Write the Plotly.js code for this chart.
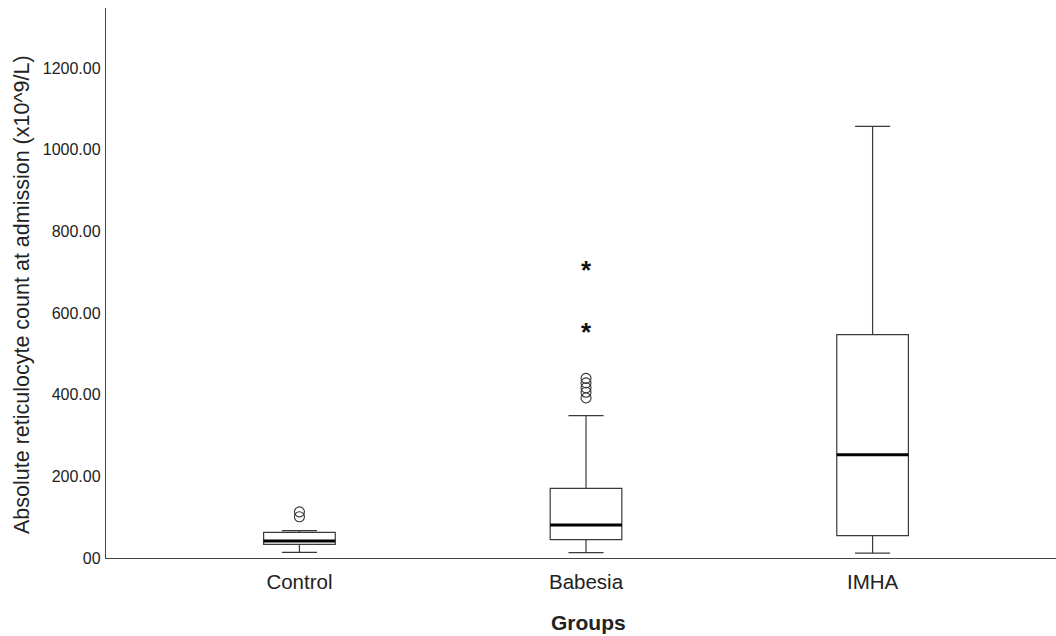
<!DOCTYPE html>
<html>
<head>
<meta charset="utf-8">
<script src="https://cdn.plot.ly/plotly-3.0.1.min.js"></script>
<style>html,body{margin:0;padding:0;background:#fff;}#chart{width:1056px;height:636px;}</style>
</head>
<body>
<div id="chart"></div>
<script>
// Data
const groups = ["Control", "Babesia", "IMHA"];
const lowerWhisker = [14, 13, 12];
const q1Values = [33.6, 44.8, 54.6];
const medians = [41.6, 80.8, 253];
const q3Values = [63, 170.7, 547];
const upperWhisker = [67, 348.5, 1057];
const circleOutliers = [
  [113, 101],
  [440, 429, 417, 406, 392],
  []
];
const extremeOutliers = [
  [],
  [713, 562],
  []
];
const yTickValues = [0, 200, 400, 600, 800, 1000, 1200];
const yTickLabels = ["00", "200.00", "400.00", "600.00", "800.00", "1000.00", "1200.00"];
const xTitle = "Groups";
const yTitle = "Absolute reticulocyte count at admission (x10^9/L)";

const xPos = groups.map((g, i) => i);
const boxWidth = 0.25;
const font = "Liberation Sans, Arial, sans-serif";

const traces = [];
traces.push({
  type: "box",
  x: xPos,
  q1: q1Values,
  median: medians,
  q3: q3Values,
  lowerfence: lowerWhisker,
  upperfence: upperWhisker,
  width: boxWidth,
  whiskerwidth: 0.49,
  fillcolor: "rgba(0,0,0,0)",
  line: {color: "#3a3a3a", width: 1.2},
  boxpoints: false,
  hoverinfo: "skip",
  showlegend: false
});
// thick median lines
medians.forEach((m, i) => {
  traces.push({
    type: "scatter", mode: "lines",
    x: [xPos[i] - boxWidth / 2, xPos[i] + boxWidth / 2],
    y: [m, m],
    line: {color: "#000", width: 3},
    hoverinfo: "skip", showlegend: false
  });
});
// circle outliers
const cx = [], cy = [];
circleOutliers.forEach((arr, i) => arr.forEach(v => { cx.push(xPos[i]); cy.push(v); }));
traces.push({
  type: "scatter", mode: "markers", x: cx, y: cy,
  marker: {symbol: "circle-open", size: 10, color: "#333", line: {width: 1.1, color: "#333"}},
  hoverinfo: "skip", showlegend: false
});
// extreme outliers (asterisks) as annotations
const annotations = [];
extremeOutliers.forEach((arr, i) => arr.forEach(v => {
  annotations.push({
    x: xPos[i], y: v, xref: "x", yref: "y",
    text: "<b>*</b>", showarrow: false,
    yshift: -3,
    font: {family: font, size: 26, color: "#111"}
  });
}));
// axis titles
annotations.push({
  xref: "paper", yref: "paper", x: 0, y: 0.5,
  xanchor: "center", yanchor: "middle", xshift: -84, yshift: -12,
  textangle: -90, showarrow: false, text: yTitle,
  font: {family: font, size: 21.5, color: "#222"}
});
annotations.push({
  xref: "paper", yref: "paper", x: 0.5, y: 0,
  xanchor: "center", yanchor: "middle", xshift: 7, yshift: -64,
  showarrow: false, text: "<b>" + xTitle + "</b>",
  font: {family: font, size: 21, color: "#222"}
});

const layout = {
  width: 1056, height: 636,
  margin: {l: 106, r: 0, t: 8, b: 78},
  paper_bgcolor: "#fff", plot_bgcolor: "#fff",
  font: {family: font, color: "#222"},
  showlegend: false,
  annotations: annotations,
  xaxis: {
    range: [-0.675, 2.64],
    tickvals: xPos, ticktext: groups,
    tickfont: {size: 20.5, color: "#222"},
    showgrid: false, zeroline: false,
    showline: true, linecolor: "#444", linewidth: 1.2,
    ticks: "", ticklabelstandoff: 5
  },
  yaxis: {
    range: [0, 1347],
    tickvals: yTickValues, ticktext: yTickLabels,
    tickfont: {size: 16, color: "#222"},
    showgrid: false, zeroline: false,
    showline: true, linecolor: "#444", linewidth: 1.2,
    ticks: "", ticklabelstandoff: 1
  }
};

Plotly.newPlot("chart", traces, layout, {displayModeBar: false, staticPlot: true});
</script>
</body>
</html>
